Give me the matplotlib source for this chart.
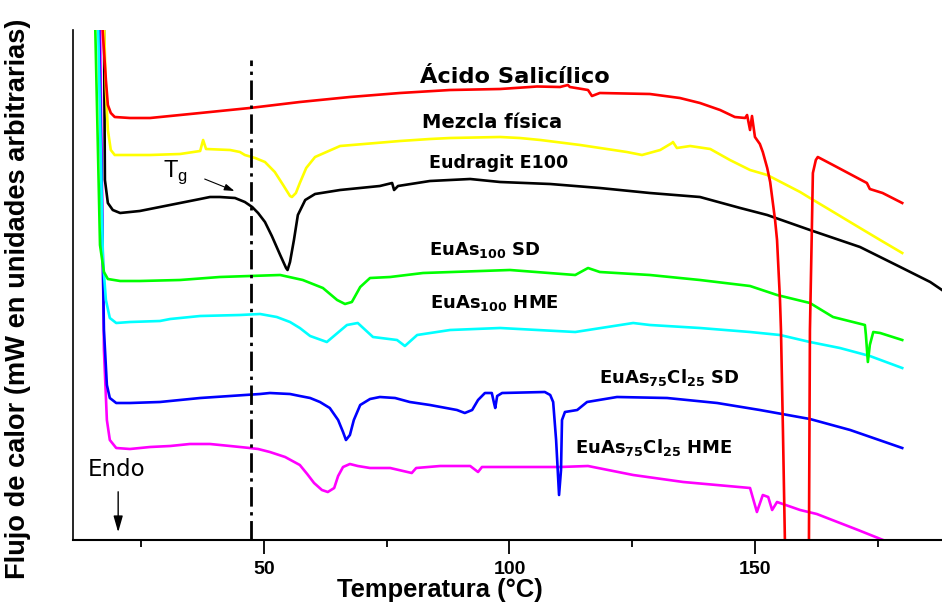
import matplotlib
matplotlib.use('Agg')
import matplotlib.pyplot as plt

# Termogramas DSC (unidades arbitrarias, curvas desplazadas en vertical)
temp_acido = [17.0, 17.8, 18.2, 18.8, 19.6, 22.7, 26.8, 37.0, 47.1, 57.3, 67.5, 77.7, 87.9,
              98.1, 104.2, 105.6, 110.3, 111.9, 112.3, 116.0, 116.8, 118.4, 128.6, 134.7,
              138.8, 142.9, 145.9, 148.0, 148.4, 149.0, 149.4, 150.0, 151.0, 151.6, 152.5,
              153.1, 154.1, 154.5, 155.1, 155.3, 155.7, 156.1, 156.3, 158.5, 160.8, 161.0,
              161.2, 161.6, 161.8, 162.4, 162.8, 165.9, 172.8, 173.4, 176.0, 180.0]
senal_acido = [520, 460, 435, 427, 423, 422, 422, 427, 432, 438, 443, 447, 450,
               451, 453, 453.5, 453, 455, 453, 450, 444, 447, 446, 442,
               437, 430, 423, 422, 425, 410, 424, 403, 396, 388, 372,
               358, 320, 300, 240, 210, 110, 0, -30, -120, -30, 0,
               210, 313, 367, 380, 383, 375, 357, 351, 347, 337]

temp_mezcla = [17.4, 17.8, 18.2, 18.8, 19.6, 22.7, 26.8, 32.9, 37.0, 37.6, 38.2, 43.1, 45.1,
               46.1, 48.2, 50.2, 52.2, 53.9, 55.3, 55.7, 56.5, 57.3, 58.6, 60.4, 65.5, 77.7,
               83.8, 87.9, 98.1, 102.1, 106.3, 114.4, 123.9, 127.0, 130.7, 133.1, 133.3,
               134.1, 136.8, 140.9, 144.9, 149.0, 152.5, 159.2, 161.2, 165.3, 171.4, 175.5,
               180.0]
senal_mezcla = [520, 450, 410, 390, 385, 385, 385, 386, 389, 400, 391, 390, 388,
                385, 382, 378, 368, 355, 344, 343, 347, 357, 372, 383, 394, 399,
                401, 402, 403, 402, 400, 395, 388, 385, 390, 397, 398,
                392, 394, 391, 380, 370, 365, 348, 342, 330, 312, 300,
                287]

temp_eudragit = [17.4, 17.6, 18.2, 19.2, 20.7, 24.7, 28.8, 32.9, 37.0, 39.0, 41.0, 44.1,
                 46.1, 47.6, 48.8, 50.2, 51.6, 53.3, 54.5, 54.8, 55.3, 56.1, 56.9, 58.4,
                 60.4, 65.5, 73.6, 76.1, 76.5, 77.3, 83.8, 92.0, 98.1, 108.3, 118.4, 128.6,
                 138.8, 147.0, 152.5, 161.2, 171.4, 179.6, 185.7, 188.1]
senal_eudragit = [520, 360, 337, 330, 327, 329, 333, 337, 341, 343, 343, 342,
                  338, 333, 327, 318, 304, 285, 272, 270, 278, 300, 325, 340,
                  346, 350, 354, 357, 350, 354, 359, 361, 358, 356, 352, 347,
                  343, 332, 325, 310, 293, 273, 258, 250]

temp_sd100 = [15.6, 16.6, 17.4, 18.2, 20.7, 24.7, 32.9, 41.0, 47.1, 53.3, 57.9, 62.0,
              64.9, 66.5, 67.9, 69.6, 71.6, 75.7, 82.4, 100.1, 113.4, 116.0, 118.4,
              128.6, 138.8, 149.0, 154.5, 161.2, 165.9, 172.4, 172.6, 173.0, 173.4,
              174.1, 175.5, 180.0]
senal_sd100 = [520, 295, 268, 261, 259, 259, 260, 263, 264, 265, 260, 252,
               240, 236, 238, 253, 262, 263, 267, 270, 265, 272, 268,
               265, 260, 254, 245, 237, 223, 215, 205, 178, 195,
               208, 207, 200]

temp_hme100 = [16.2, 17.2, 17.8, 18.6, 19.9, 22.7, 28.8, 30.9, 37.0, 45.1, 49.2, 52.6,
               55.3, 57.3, 59.4, 62.8, 66.9, 69.1, 72.2, 77.1, 78.7, 81.2, 87.9, 98.1,
               113.4, 125.2, 128.6, 138.8, 149.0, 155.1, 161.2, 167.3, 173.4, 180.0]
senal_hme100 = [520, 280, 240, 222, 217, 218, 219, 221, 224, 225, 226, 223,
                218, 212, 204, 198, 215, 217, 203, 200, 194, 205, 210, 212,
                208, 217, 215, 212, 208, 205, 198, 192, 184, 172]

temp_sd75 = [16.4, 17.4, 18.0, 18.6, 19.9, 22.7, 28.8, 32.9, 37.0, 43.1, 49.2, 51.2, 55.3,
             57.3, 59.4, 61.4, 63.4, 65.1, 66.1, 66.7, 67.5, 68.3, 69.6, 71.6, 73.6, 76.7,
             79.7, 83.8, 89.3, 90.9, 92.4, 93.6, 95.0, 96.4, 96.9, 97.1, 97.5, 98.5,
             107.2, 108.3, 108.9, 109.5, 110.1, 110.5, 110.7, 111.3, 113.8, 115.8, 121.9,
             132.1, 142.3, 151.0, 161.2, 169.4, 180.0]
senal_sd75 = [520, 210, 155, 142, 137, 137, 138, 140, 142, 144, 146, 147, 146,
              144, 142, 138, 132, 120, 108, 100, 105, 120, 135, 141, 143, 142,
              138, 135, 130, 127, 130, 140, 147, 147, 136, 132, 144, 147,
              148, 145, 138, 100, 45, 70, 120, 128, 130, 138, 143,
              142, 137, 130, 121, 110, 92]

temp_hme75 = [16.6, 17.4, 18.0, 18.6, 19.9, 22.7, 26.8, 30.9, 34.9, 39.0, 43.1, 47.1, 48.8,
              51.2, 54.3, 57.3, 58.8, 60.2, 61.8, 63.0, 64.3, 65.1, 66.1, 67.5, 69.1, 71.6,
              75.7, 80.1, 81.0, 85.9, 92.0, 93.6, 94.4, 100.1, 110.3, 116.0, 125.2, 135.4,
              149.0, 150.4, 151.6, 152.7, 153.5, 154.5, 159.2, 162.6, 171.0, 176.1, 180.0]
senal_hme75 = [520, 190, 120, 100, 92, 91, 93, 94, 96, 96, 94, 92, 91,
               88, 83, 75, 66, 57, 50, 48, 52, 64, 73, 76, 74, 72,
               72, 67, 72, 74, 74, 68, 73, 73, 73, 74, 65, 58,
               52, 28, 45, 43, 30, 38, 30, 26, 10, 0, -8]

temp_tg = 47.3

plt.rcParams['font.family'] = ['Liberation Sans', 'DejaVu Sans']
plt.rcParams['mathtext.fontset'] = 'custom'
plt.rcParams['mathtext.rm'] = 'DejaVu Sans:bold'
plt.rcParams['mathtext.it'] = 'DejaVu Sans:bold'
plt.rcParams['mathtext.bf'] = 'DejaVu Sans:bold'
plt.rcParams['mathtext.sf'] = 'Liberation Sans'

fig = plt.figure(figsize=(9.42, 6.02), dpi=100)
ax = fig.add_axes([73 / 942, 62 / 602, 869 / 942, 510 / 602])

lw = 1.9
ax.plot(temp_hme75, senal_hme75, color='#ff00ff', lw=lw)
ax.plot(temp_sd75, senal_sd75, color='#0000ff', lw=lw)
ax.plot(temp_hme100, senal_hme100, color='#00ffff', lw=lw)
ax.plot(temp_sd100, senal_sd100, color='#00ff00', lw=lw)
ax.plot(temp_eudragit, senal_eudragit, color='black', lw=lw)
ax.plot(temp_mezcla, senal_mezcla, color='#ffff00', lw=lw)
ax.plot(temp_acido, senal_acido, color='#ff0000', lw=lw)

# linea de la Tg
ax.plot([temp_tg, temp_tg], [0, 480], color='black', lw=2.0,
        linestyle=(0, (7, 2, 1.2, 2)))

ax.set_xlim(11.1, 188.1)
ax.set_ylim(0, 510)

# etiquetas de cada curva
rotulo = dict(fontweight='bold', family='DejaVu Sans')
ax.text(81.8, 457, 'Ácido Salicílico', fontsize=16.2, **rotulo)
ax.text(82.2, 412, 'Mezcla física', fontsize=14, **rotulo)
ax.text(83.6, 372, 'Eudragit E100', fontsize=12.6, **rotulo)
ax.text(83.6, 285, r'EuAs$_{100}$ SD', fontsize=13, **rotulo)
ax.text(83.8, 232, r'EuAs$_{100}$ HME', fontsize=13, **rotulo)
ax.text(118.2, 157, r'EuAs$_{75}$Cl$_{25}$ SD', fontsize=13, **rotulo)
ax.text(113.3, 87, r'EuAs$_{75}$Cl$_{25}$ HME', fontsize=13, **rotulo)

ax.text(29.4, 363, r'T$_{\mathsf{g}}$', fontsize=17)
ax.annotate('', xy=(44.5, 348), xytext=(37.4, 362),
            arrowprops=dict(arrowstyle='-|>,head_length=0.6,head_width=0.2',
                            color='black', lw=0.8, mutation_scale=10))

ax.text(14.15, 64, 'Endo', fontsize=16.5, family='DejaVu Sans')
ax.annotate('', xy=(20.3, 5), xytext=(20.3, 51),
            arrowprops=dict(arrowstyle='-|>,head_length=0.7,head_width=0.2',
                            color='black', lw=1.0, mutation_scale=14))

# ejes
ax.spines['top'].set_visible(False)
ax.spines['right'].set_visible(False)
ax.spines['left'].set_linewidth(1.2)
ax.spines['bottom'].set_linewidth(1.5)
ax.set_yticks([])
ax.set_xticks([50, 100, 150])
ax.set_xticks([25, 75, 125, 175], minor=True)
ax.tick_params(axis='x', which='major', direction='out', length=10, width=1.3,
               labelsize=14, pad=5)
ax.tick_params(axis='x', which='minor', direction='out', length=5, width=1.3)
for lab in ax.get_xticklabels():
    lab.set_fontweight('bold')

fig.text(440 / 942, 5 / 602, 'Temperatura (°C)', fontsize=18.4, fontweight='bold',
         ha='center', va='baseline')
fig.text(18 / 942, 1 - 299 / 602, 'Flujo de calor (mW en unidades arbitrarias)',
         fontsize=19.6, fontweight='bold', rotation=90, ha='center', va='center')

fig.savefig('out.png', dpi=100)
